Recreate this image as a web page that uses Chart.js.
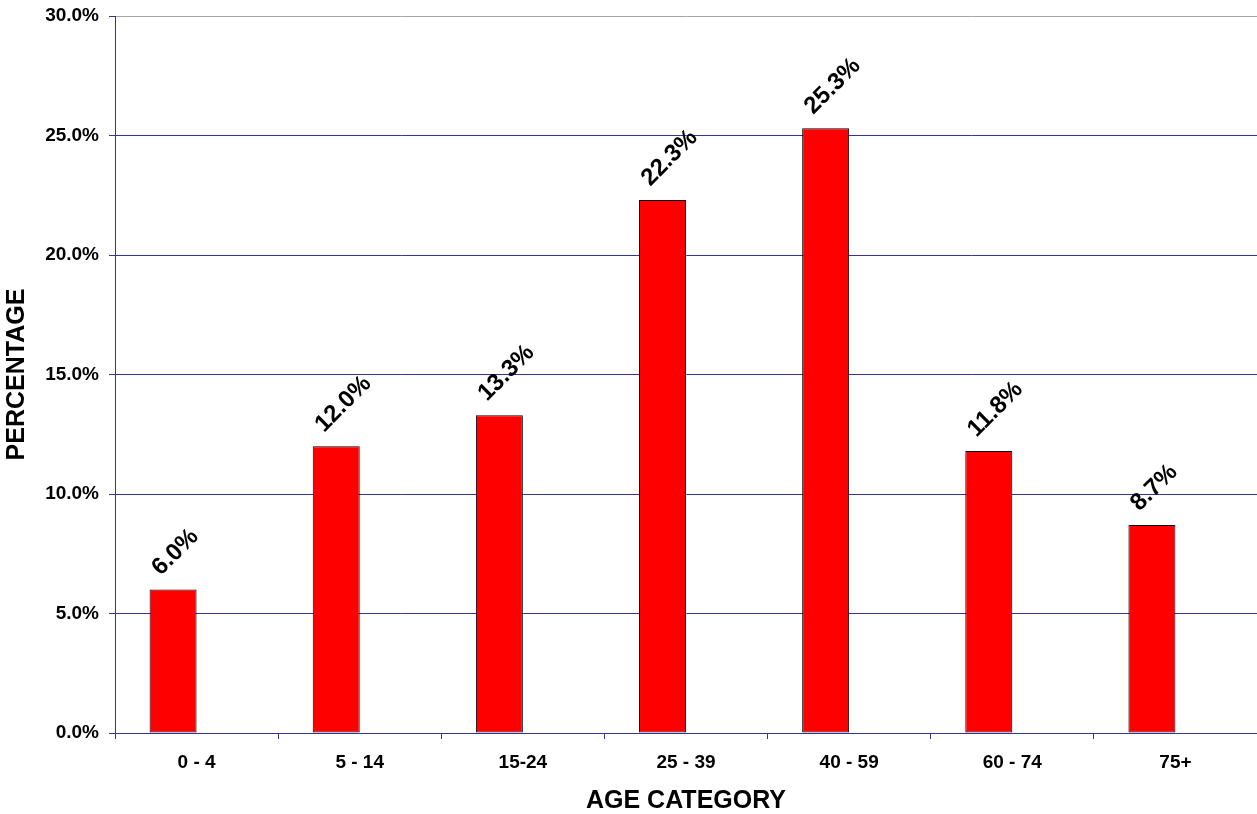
<!DOCTYPE html>
<html>
<head>
<meta charset="utf-8">
<title>Age category</title>
<script src="https://cdn.jsdelivr.net/npm/chart.js@4.4.0/dist/chart.umd.min.js"></script>
<style>
  body { margin: 0; background: white; }
  canvas { display: block; }
</style>
</head>
<body>
<canvas id="ageChart" width="1257" height="814"></canvas>
<script>
// datos
var categorias = ['0 - 4', '5 - 14', '15-24', '25 - 39', '40 - 59', '60 - 74', '75+'];
var porcentajes = [6.0, 12.0, 13.3, 22.3, 25.3, 11.8, 8.7];
var serieVacia = [null, null, null, null, null, null, null]; // second (empty) series, keeps the bars left of centre
var ticksY = [0, 5, 10, 15, 20, 25, 30];

var fuente = '"Liberation Sans", Arial, sans-serif';
var azul = '#333399';

// etiquetas giradas encima de cada barra
var etiquetas = {
  id: 'etiquetas',
  afterDatasetsDraw: function(chart) {
    var ctx = chart.ctx;
    var meta = chart.getDatasetMeta(0);
    ctx.save();
    ctx.fillStyle = 'black';
    ctx.font = 'bold 24px ' + fuente;
    ctx.textAlign = 'left';
    ctx.textBaseline = 'middle';
    meta.data.forEach(function(bar, i) {
      ctx.save();
      ctx.translate(bar.x - 17, bar.y - 18);
      ctx.rotate(-Math.PI / 4);
      ctx.fillText(porcentajes[i].toFixed(1) + '%', 0, 0);
      ctx.restore();
    });
    ctx.restore();
  }
};

var grafico = new Chart(document.getElementById('ageChart').getContext('2d'), {
  type: 'bar',
  data: {
    labels: categorias,
    datasets: [
      {
        label: 'Percentage',
        data: porcentajes,
        backgroundColor: '#ff0000',
        borderColor: 'black',
        borderWidth: 1,
        borderSkipped: false,
        categoryPercentage: 0.576,
        barPercentage: 1
      },
      {
        label: '',
        data: serieVacia,
        categoryPercentage: 0.576,
        barPercentage: 1
      }
    ]
  },
  options: {
    responsive: false,
    animation: false,
    layout: { padding: { top: 16, left: 0, right: 0, bottom: 0 } },
    plugins: {
      legend: { display: false },
      tooltip: { enabled: false }
    },
    scales: {
      x: {
        afterFit: function(scale) {
          scale.height = 81;
          scale.paddingLeft = 0;
          scale.paddingRight = 0;
        },
        grid: {
          drawOnChartArea: false,
          drawTicks: true,
          tickLength: 6,
          color: azul,
          offset: true
        },
        border: { color: azul, width: 1 },
        ticks: {
          color: 'black',
          padding: 12,
          maxRotation: 0,
          font: { family: fuente, size: 19, weight: 'bold' }
        },
        title: {
          display: true,
          text: 'AGE CATEGORY',
          color: 'black',
          padding: 0,
          font: { family: fuente, size: 25, weight: 'bold', lineHeight: 1 }
        }
      },
      y: {
        min: 0,
        max: 30,
        afterFit: function(scale) {
          scale.width = 115;
          scale.paddingTop = 0;
          scale.paddingBottom = 0;
        },
        afterBuildTicks: function(scale) {
          scale.ticks = ticksY.map(function(v) { return { value: v }; });
        },
        grid: {
          color: function(c) { return c.tick && c.tick.value === 30 ? '#a6a6a6' : azul; },
          tickColor: azul,
          tickLength: 6
        },
        border: { color: azul, width: 1 },
        ticks: {
          color: 'black',
          padding: 10,
          font: { family: fuente, size: 19, weight: 'bold' },
          callback: function(v) { return v.toFixed(1) + '%'; }
        },
        title: {
          display: true,
          text: 'PERCENTAGE',
          color: 'black',
          padding: { top: 2, bottom: 0 },
          font: { family: fuente, size: 25, weight: 'bold' }
        }
      }
    }
  },
  plugins: [etiquetas]
});
</script>
</body>
</html>
